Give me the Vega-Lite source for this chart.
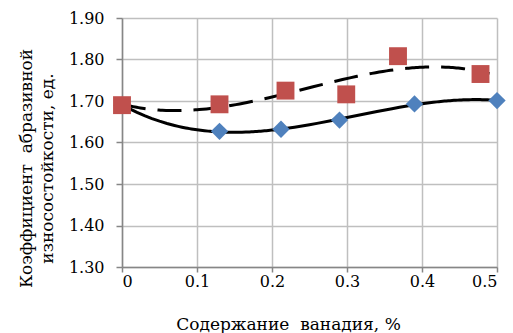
{
  "$schema": "https://vega.github.io/schema/vega-lite/v6.json",
  "width": 375,
  "height": 249,
  "autosize": {"type": "none"},
  "padding": {"left": 122, "top": 18, "right": 16, "bottom": 66},
  "background": "white",
  "config": {
    "view": {"stroke": null},
    "font": "DejaVu Serif",
    "axis": {
      "labelFont": "DejaVu Serif",
      "titleFont": "DejaVu Serif",
      "labelFontSize": 16,
      "titleFontSize": 17,
      "titleFontWeight": "normal",
      "labelColor": "black",
      "titleColor": "black",
      "domainColor": "#868686",
      "tickColor": "#868686",
      "gridColor": "#bfbfbf",
      "domainWidth": 1.5,
      "gridWidth": 1.5,
      "tickWidth": 1.5
    }
  },
  "data": {
    "values": [
      {"x": 0, "y": 1.69, "series": "blue"},
      {"x": 0.13, "y": 1.627, "series": "blue"},
      {"x": 0.212, "y": 1.632, "series": "blue"},
      {"x": 0.29, "y": 1.654, "series": "blue"},
      {"x": 0.39, "y": 1.693, "series": "blue"},
      {"x": 0.5, "y": 1.701, "series": "blue"},
      {"x": 0, "y": 1.69, "series": "red"},
      {"x": 0.13, "y": 1.692, "series": "red"},
      {"x": 0.218, "y": 1.725, "series": "red"},
      {"x": 0.299, "y": 1.716, "series": "red"},
      {"x": 0.368, "y": 1.808, "series": "red"},
      {"x": 0.478, "y": 1.765, "series": "red"}
    ]
  },
  "encoding": {
    "x": {
      "field": "x", "type": "quantitative",
      "scale": {"domain": [0, 0.5], "nice": false},
      "axis": {
        "values": [0, 0.1, 0.2, 0.3, 0.4, 0.5],
        "format": "~g",
        "title": "Содержание\u00a0 ванадия, %",
        "titleX": 166,
        "titlePadding": 27,
        "labelPadding": 1,
        "tickSize": 5,
        "grid": true
      }
    },
    "y": {
      "field": "y", "type": "quantitative",
      "scale": {"domain": [1.3, 1.9], "nice": false, "zero": false},
      "axis": {
        "values": [1.3, 1.4, 1.5, 1.6, 1.7, 1.8, 1.9],
        "format": ".2f",
        "title": ["Коэффициент\u00a0 абразивной", "износостойкости, ед."],
        "titleY": 150,
        "titleLineHeight": 21,
        "titlePadding": 12,
        "labelPadding": 12,
        "tickSize": 6,
        "grid": true
      }
    }
  },
  "layer": [
    {
      "transform": [
        {"filter": "datum.series === 'blue'"},
        {"regression": "y", "on": "x", "method": "poly", "order": 3, "extent": [0, 0.5]}
      ],
      "mark": {"type": "line", "color": "black", "strokeWidth": 3, "clip": true}
    },
    {
      "transform": [
        {"filter": "datum.series === 'red'"},
        {"regression": "y", "on": "x", "method": "poly", "order": 3, "extent": [0, 0.49]}
      ],
      "mark": {"type": "line", "color": "black", "strokeWidth": 3, "strokeDash": [24, 12], "clip": true}
    },
    {
      "transform": [{"filter": "datum.series === 'blue'"}],
      "mark": {"type": "point", "shape": "diamond", "filled": true, "size": 300, "color": "#4F81BD", "opacity": 1}
    },
    {
      "transform": [{"filter": "datum.series === 'red'"}],
      "mark": {"type": "point", "shape": "square", "filled": true, "size": 320, "color": "#C0504D", "opacity": 1}
    }
  ]
}
